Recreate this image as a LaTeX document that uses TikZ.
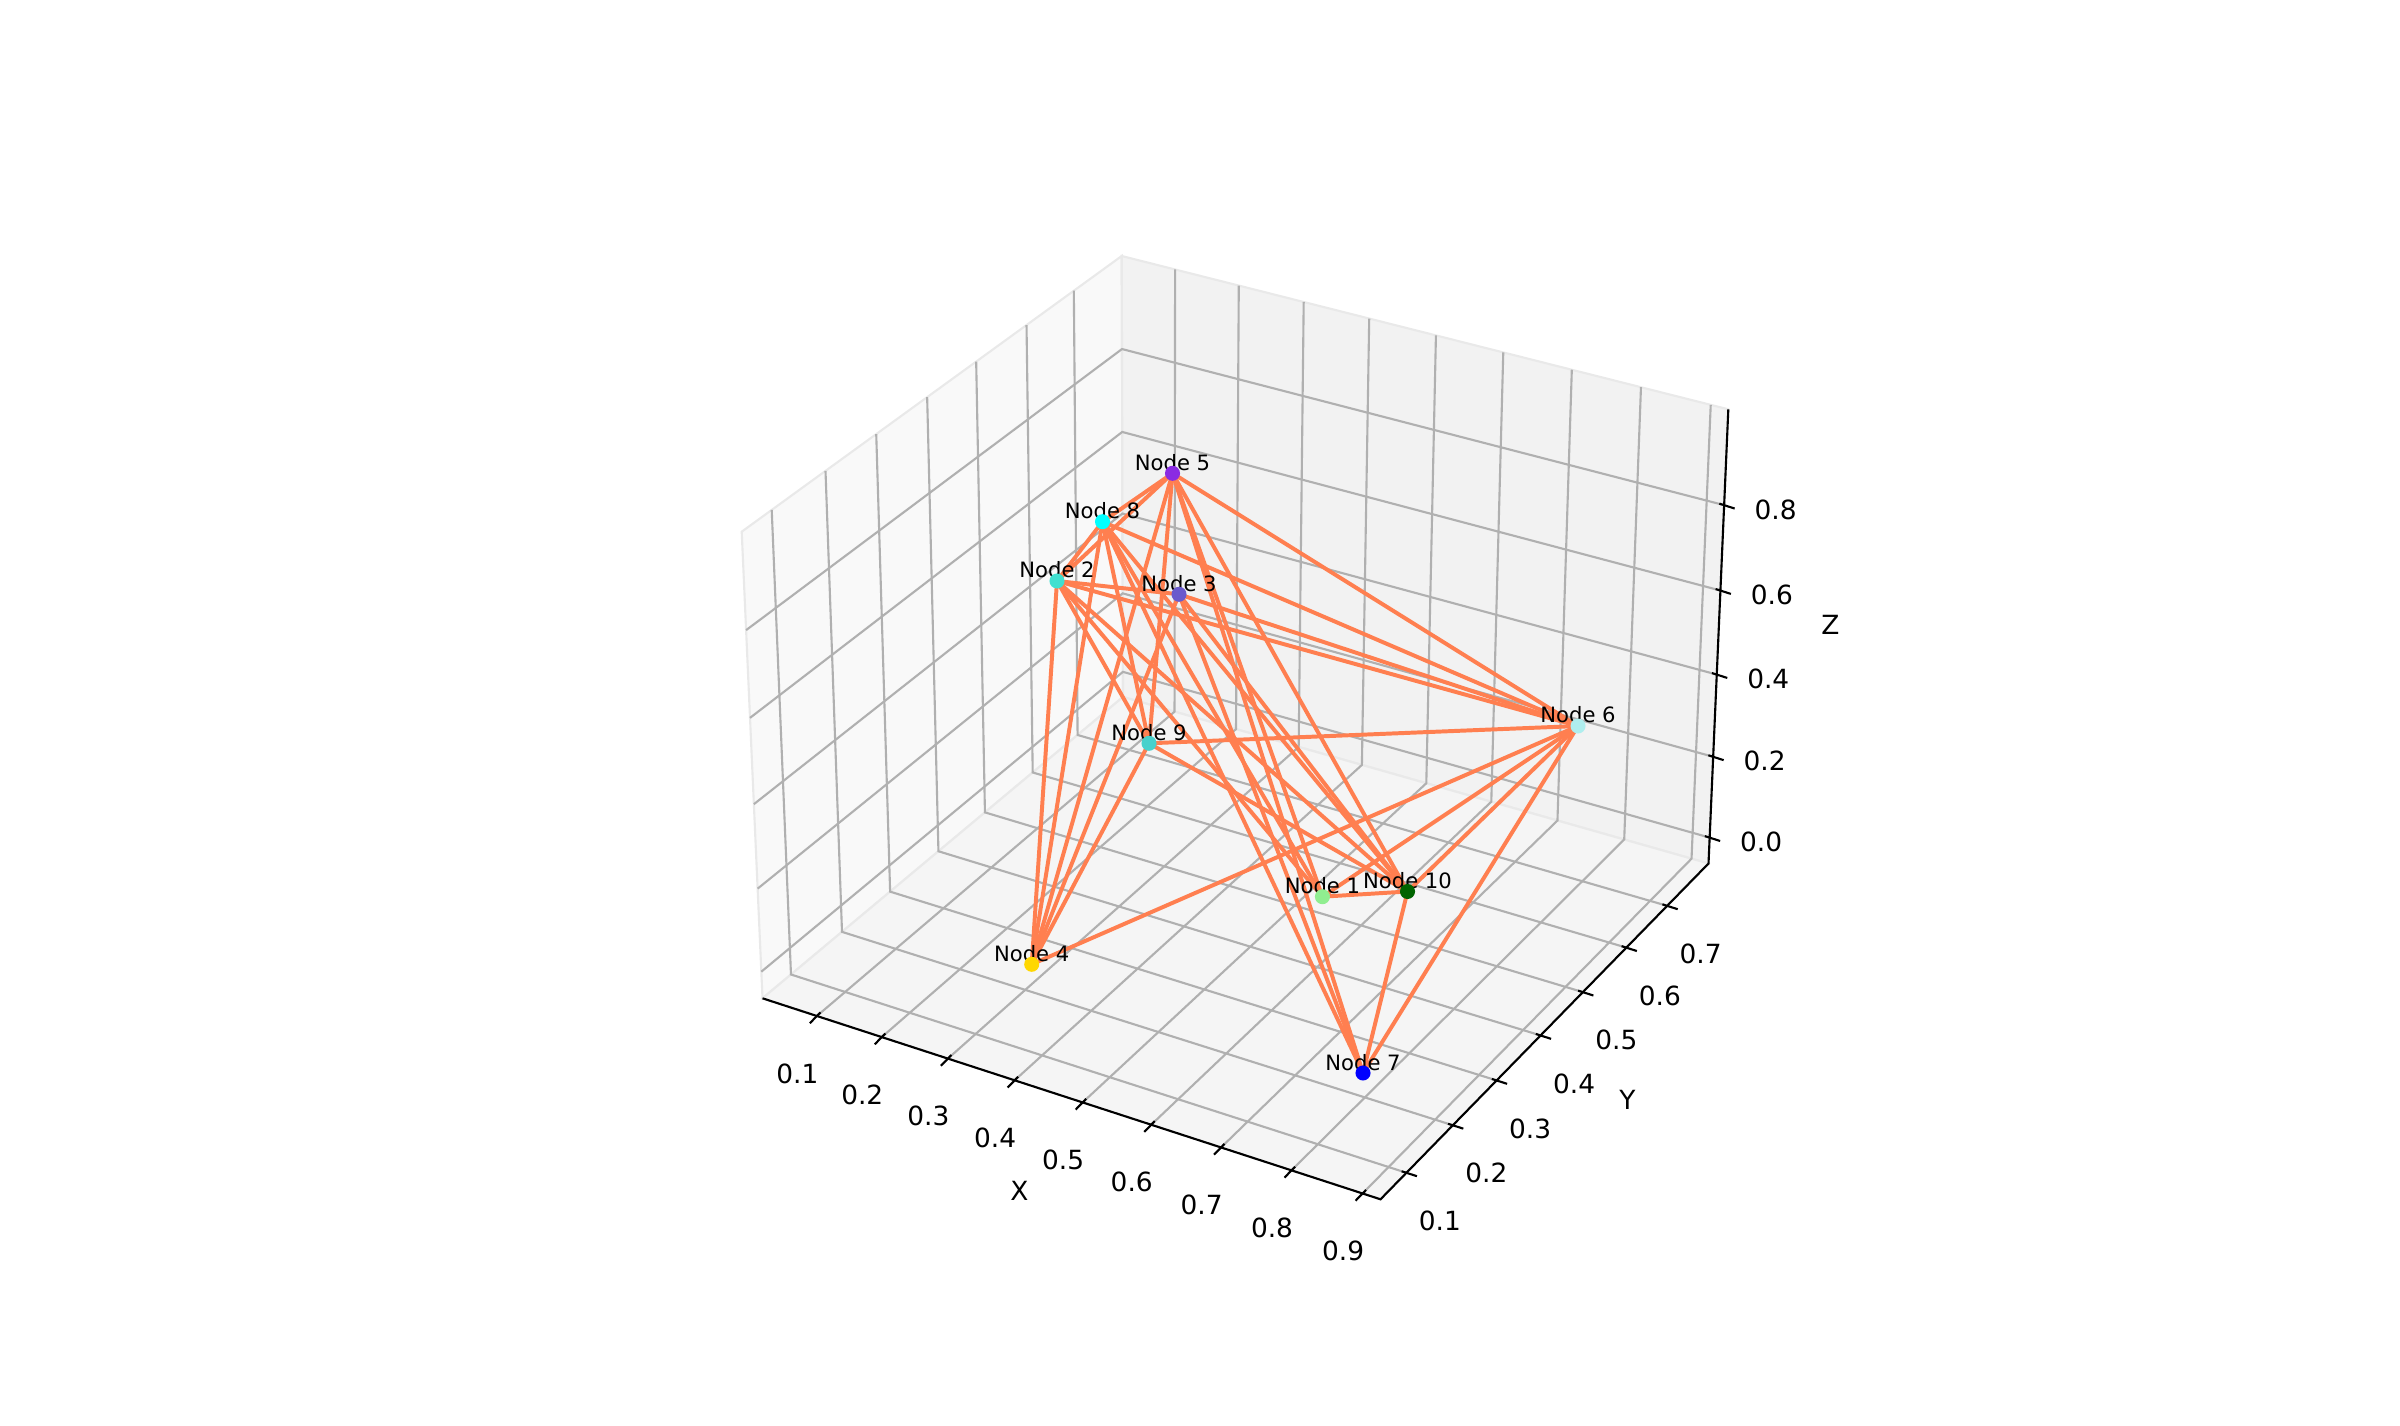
\documentclass[tikz,border=0pt]{standalone}
\usepackage{fontspec}
\setmainfont{DejaVu Sans}
\usetikzlibrary{calc}

\definecolor{coral}{HTML}{FF7F50}
\definecolor{gridgray}{HTML}{B0B0B0}
\definecolor{paneX}{HTML}{F9F9F9}
\definecolor{paneY}{HTML}{F2F2F2}
\definecolor{paneZ}{HTML}{F5F5F5}
\definecolor{paneedge}{HTML}{E9E9E9}
\definecolor{lightgreen}{HTML}{90EE90}
\definecolor{turquoise}{HTML}{40E0D0}
\definecolor{slateblue}{HTML}{6A5ACD}
\definecolor{gold}{HTML}{FFD700}
\definecolor{blueviolet}{HTML}{8A2BE2}
\definecolor{paleturquoise}{HTML}{AFEEEE}
\definecolor{pureblue}{HTML}{0000FF}
\definecolor{purecyan}{HTML}{00FFFF}
\definecolor{mediumturquoise}{HTML}{48D1CC}
\definecolor{darkgreen}{HTML}{006400}

\begin{document}
\begin{tikzpicture}[x=0.0133cm,y=-0.0133cm,
  gridline/.style={draw=gridgray,line width=0.8pt},
  axisline/.style={draw=black,line width=0.8pt},
  ticklabel/.style={font=\fontsize{10}{12}\selectfont,inner sep=0pt},
  link/.style={draw=coral,line width=1.5pt},
  vertex/.style={circle,inner sep=0pt,minimum size=5.7pt},
  vlabel/.style={font=\fontsize{8}{10}\selectfont,anchor=base,inner sep=0pt}]
\useasboundingbox (0,0) rectangle (2400,1426);

% corners of the axes box
\coordinate (FL) at (762.5,998.3);
\coordinate (FF) at (1380.5,1199.3);
\coordinate (FR) at (1708.5,863.5);
\coordinate (FB) at (1123,697);
\coordinate (TL) at (741.7,531.7);
\coordinate (TB) at (1121.7,256);
\coordinate (TR) at (1728.3,409.3);

% panes
\filldraw[fill=paneX,draw=paneedge,line width=0.8pt] (FL) -- (FB) -- (TB) -- (TL) -- cycle;
\filldraw[fill=paneY,draw=paneedge,line width=0.8pt] (FB) -- (FR) -- (TR) -- (TB) -- cycle;
\filldraw[fill=paneZ,draw=paneedge,line width=0.8pt] (FL) -- (FF) -- (FR) -- (FB) -- cycle;

% grid
\foreach \s in {0.088,0.193,0.300,0.408,0.518,0.629,0.742,0.856,0.971}
  \draw[gridline] ($(FL)!\s!(FF)$) -- ($(FB)!\s!(FR)$) -- ($(TB)!\s!(TR)$);
\foreach \s in {0.079,0.2205,0.354,0.488,0.617,0.7495,0.874}
  \draw[gridline] ($(FF)!\s!(FR)$) -- ($(FL)!\s!(FB)$) -- ($(TL)!\s!(TB)$);
\foreach \s in {0.057,0.235,0.416,0.601,0.789}
  \draw[gridline] ($(FL)!\s!(TL)$) -- ($(FB)!\s!(TB)$) -- ($(FR)!\s!(TR)$);

% axes, ticks
\draw[axisline] (FL) -- (FF) -- (FR) -- (TR);
\foreach \s/\v in {0.088/0.1,0.193/0.2,0.300/0.3,0.408/0.4,0.518/0.5,0.629/0.6,0.742/0.7,0.856/0.8,0.971/0.9}{
  \draw[axisline] ($(FL)!\s!(FF)+(3.5,-3.6)$) -- ($(FL)!\s!(FF)+(-7,7.2)$);
  \node[ticklabel] at ($(FL)!\s!(FF)+(-19.5,57.5)$) {\v};
}
\foreach \s/\v in {0.079/0.1,0.2205/0.2,0.354/0.3,0.488/0.4,0.617/0.5,0.7495/0.6,0.874/0.7}{
  \draw[axisline] ($(FF)!\s!(FR)+(-4.8,-1.5)$) -- ($(FF)!\s!(FR)+(10.5,3.4)$);
  \node[ticklabel] at ($(FF)!\s!(FR)+(33.5,48)$) {\v};
}
\foreach \s/\v in {0.057/0.0,0.235/0.2,0.416/0.4,0.601/0.6,0.789/0.8}{
  \draw[axisline] ($(FR)!\s!(TR)+(-4.8,-1.5)$) -- ($(FR)!\s!(TR)+(10.5,3.4)$);
  \node[ticklabel] at ($(FR)!\s!(TR)+(51.5,4.3)$) {\v};
}
\node[ticklabel] (xlab) at (1019.3,1191.3) {X};
\node[ticklabel] (ylab) at (1627.4,1099.5) {Y};
\node[ticklabel] (zlab) at (1830.3,624.9) {Z};

% graph nodes
\coordinate (n1) at (1322.4,896.7);
\coordinate (n2) at (1057,581);
\coordinate (n3) at (1179,594.3);
\coordinate (n4) at (1031.7,964.3);
\coordinate (n5) at (1172.5,473.3);
\coordinate (n6) at (1578,726);
\coordinate (n7) at (1363,1073);
\coordinate (n8) at (1102.5,521.7);
\coordinate (n9) at (1149,743.3);
\coordinate (n10) at (1407.5,891.5);

\foreach \a/\b in {1/2,1/5,1/6,1/8,1/10,2/3,2/4,2/5,2/6,2/8,2/9,2/10,
                   3/4,3/6,3/7,3/10,4/5,4/6,4/8,4/9,5/6,5/7,5/8,5/9,5/10,
                   6/7,6/8,6/9,6/10,7/8,7/10,8/9,8/10,9/10}
  \draw[link] (n\a) -- (n\b);

\foreach \i/\c in {1/lightgreen,2/turquoise,3/slateblue,4/gold,5/blueviolet,
                   6/paleturquoise,7/pureblue,8/purecyan,9/mediumturquoise,10/darkgreen}{
  \node[vlabel] (lab\i) at ($(n\i)+(0,-3)$) {Node \i};
  \node[vertex,fill=\c] (dot\i) at (n\i) {};
}
\end{tikzpicture}
\end{document}
